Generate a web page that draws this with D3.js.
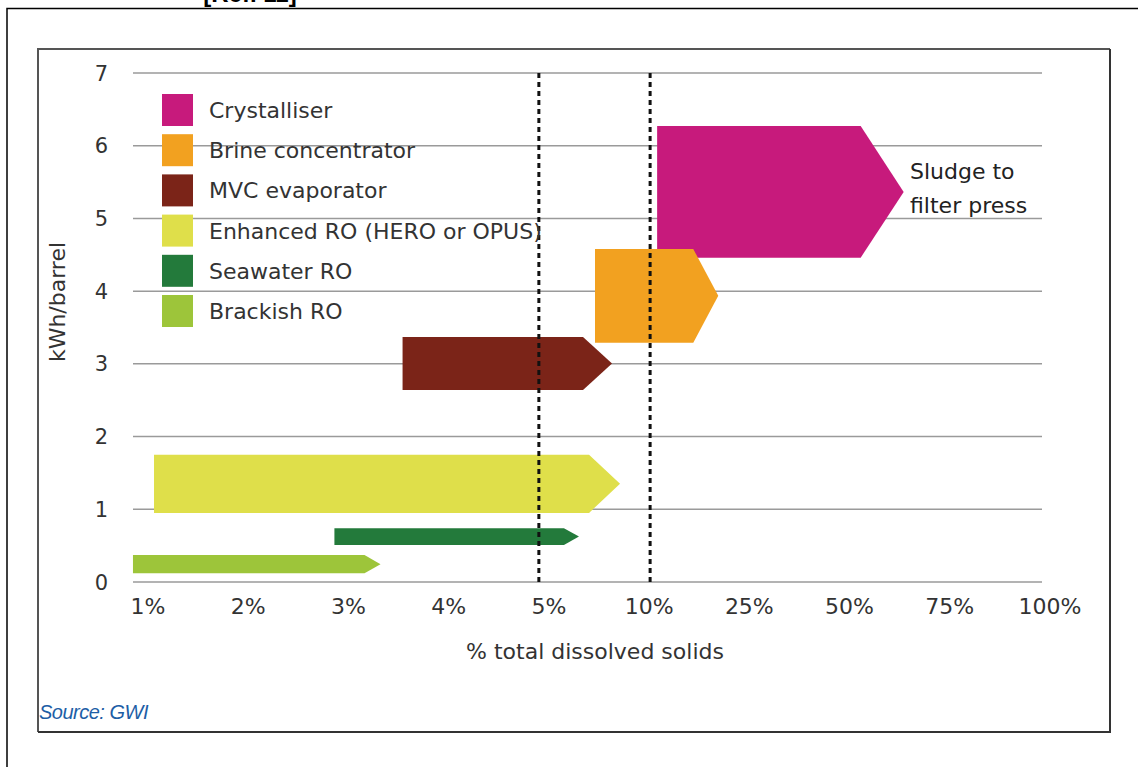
<!DOCTYPE html>
<html>
<head>
<meta charset="utf-8">
<script src="https://cdn.jsdelivr.net/npm/d3@7"></script>
<style>
  html, body { margin: 0; padding: 0; background: #fff; }
  svg { display: block; font-family: "DejaVu Sans", sans-serif; }
</style>
</head>
<body>
<div id="chart"></div>
<script>
const width = 1138,
      height = 767;

// Processes, drawn top to bottom
const processes = ['Crystalliser', 'Brine concentrator', 'MVC evaporator',
                   'Enhanced RO (HERO or OPUS)', 'Seawater RO', 'Brackish RO'];
const colors = ['#c71a7c', '#f2a120', '#7b2418', '#dfdf4a', '#237a3b', '#9dc53a'];

// TDS range, in x-tick position units (0 = 1%, 9 = 100%)
const tdsStart = [5.08, 4.46, 2.54, 0.06, 1.86, -0.15];
const tdsEnd   = [7.54, 5.69, 4.63, 4.71, 4.30, 2.32];

// energy range, kWh/barrel
const kwhLow  = [4.46, 3.29, 2.64, 0.95, 0.51, 0.12];
const kwhHigh = [6.27, 4.58, 3.37, 1.75, 0.74, 0.37];

const tdsTicks = ['1%', '2%', '3%', '4%', '5%', '10%', '25%', '50%', '75%', '100%'];
const kwhTicks = [0, 1, 2, 3, 4, 5, 6, 7];

// dotted markers at 5% and 10%
const markerLines = [3.9, 5.01];

// arrow point length in px
const arrowTip = [43, 25, 29, 31, 15, 16];

const x = d3.scaleLinear().domain([0, 9]).range([148, 1050]);
const y = d3.scaleLinear().domain([0, 7]).range([582, 73]);

const svg = d3.select('#chart').append('svg')
    .attr('width', width)
    .attr('height', height);

// page frame (caption above is cut off in the source page)
svg.append('text')
    .attr('x', 250).attr('y', 2)
    .attr('text-anchor', 'middle')
    .style('font-family', '"Liberation Sans", Arial, sans-serif')
    .style('font-size', '24px').style('font-weight', 'bold')
    .text('[Ref. 11]');
svg.append('path')
    .attr('d', `M7,767V8.5H${width}`)
    .attr('fill', 'none').attr('stroke', '#000').attr('stroke-width', 1.5);

// figure box
svg.append('path')
    .attr('d', 'M38,732V49H1110')
    .attr('fill', 'none').attr('stroke', '#555').attr('stroke-width', 2);
svg.append('path')
    .attr('d', 'M38,732H1110V49')
    .attr('fill', 'none').attr('stroke', '#333').attr('stroke-width', 2);

// gridlines
svg.append('g').selectAll('line')
    .data(kwhTicks).enter().append('line')
    .attr('x1', 133).attr('x2', 1042)
    .attr('y1', d => y(d)).attr('y2', d => y(d))
    .attr('stroke', '#9a9a9a').attr('stroke-width', 1.5);

// y tick labels
svg.append('g').selectAll('text')
    .data(kwhTicks).enter().append('text')
    .attr('x', 108).attr('y', d => y(d))
    .attr('dy', '0.36em')
    .attr('text-anchor', 'end')
    .attr('fill', '#333')
    .style('font-size', '21px')
    .text(d => d);

// x tick labels
svg.append('g').selectAll('text')
    .data(tdsTicks).enter().append('text')
    .attr('x', (d, i) => x(i)).attr('y', 614)
    .attr('text-anchor', 'middle')
    .attr('fill', '#333')
    .style('font-size', '22px')
    .text(d => d);

// axis titles
svg.append('text')
    .attr('x', 595).attr('y', 659)
    .attr('text-anchor', 'middle')
    .attr('fill', '#333')
    .style('font-size', '22px')
    .text('% total dissolved solids');
svg.append('text')
    .attr('transform', 'translate(65,302) rotate(-90)')
    .attr('text-anchor', 'middle')
    .attr('fill', '#333')
    .style('font-size', '22px')
    .text('kWh/barrel');

// arrows
const arrowPath = i => {
    const x0 = x(tdsStart[i]), x2 = x(tdsEnd[i]), x1 = x2 - arrowTip[i];
    const y0 = y(kwhHigh[i]), y1 = y(kwhLow[i]);
    return `M${x0},${y0}H${x1}L${x2},${(y0 + y1) / 2}L${x1},${y1}H${x0}Z`;
};
svg.append('g').selectAll('path')
    .data(processes).enter().append('path')
    .attr('d', (d, i) => arrowPath(i))
    .attr('fill', (d, i) => colors[i]);

// dotted markers
svg.append('g').selectAll('line')
    .data(markerLines).enter().append('line')
    .attr('x1', d => x(d)).attr('x2', d => x(d))
    .attr('y1', y(7)).attr('y2', y(0))
    .attr('stroke', '#111').attr('stroke-width', 3)
    .attr('stroke-dasharray', '5,4');

// annotation
svg.append('text')
    .attr('x', 910).attr('y', 179)
    .attr('fill', '#222')
    .style('font-size', '22px')
    .selectAll('tspan')
    .data(['Sludge to', 'filter press']).enter().append('tspan')
    .attr('x', 910).attr('dy', (d, i) => i ? 34 : 0)
    .text(d => d);

// legend
const legend = svg.append('g').attr('transform', 'translate(162,110)');
processes.forEach((p, i) => {
    const row = legend.append('g').attr('transform', `translate(0,${i * 40.2})`);
    row.append('rect')
        .attr('y', -16).attr('width', 31).attr('height', 32)
        .attr('fill', colors[i]);
    row.append('text')
        .attr('x', 47).attr('dy', '0.36em')
        .attr('fill', '#333')
        .style('font-size', '22px')
        .text(p);
});

// source
svg.append('text')
    .attr('x', 39).attr('y', 719)
    .attr('fill', '#1d5ea6')
    .style('font-family', '"Liberation Sans", Arial, sans-serif')
    .style('font-size', '20px').style('font-style', 'italic')
    .style('letter-spacing', '-0.5px')
    .text('Source: GWI');
</script>
</body>
</html>
